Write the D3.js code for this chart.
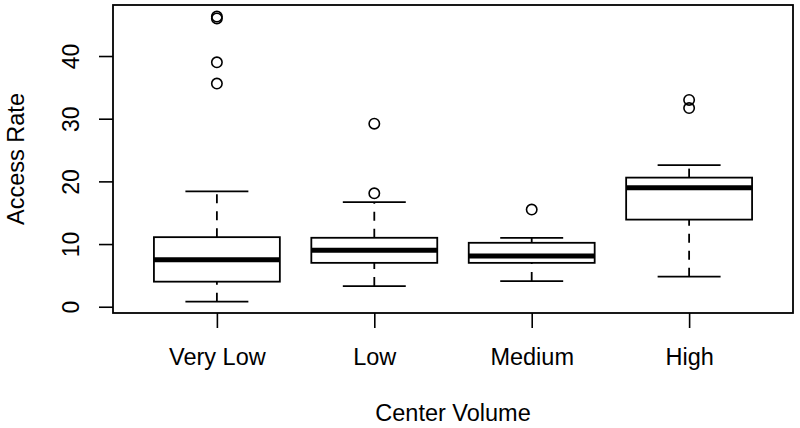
<!DOCTYPE html>
<html>
<head>
<meta charset="utf-8">
<script src="https://cdn.jsdelivr.net/npm/d3@7"></script>
<style>
  body { margin: 0; background: #fff; }
  svg { display: block; font-family: "Liberation Sans", Arial, sans-serif; }
</style>
</head>
<body>
<div class="chart"></div>
<script>
//Box summaries
var categories = ["Very Low", "Low", "Medium", "High"];
var whiskerLow = [0.8, 3.3, 4.1, 4.8];
var q1 = [4.0, 7.0, 7.0, 13.9];
var median = [7.5, 9.0, 8.1, 19.0];
var q3 = [11.1, 11.0, 10.2, 20.6];
var whiskerHigh = [18.4, 16.7, 11.0, 22.6];
var outliers = [[46.0, 46.3, 39.0, 35.6], [29.2, 18.1], [15.5], [33.0, 31.7]];
var yTicks = [0, 10, 20, 30, 40];

function boxPlot(){
  var w = 800;
  var h = 428;
  var left = 113, right = 793, top = 5, bottom = 313;

  var svg = d3.select(".chart")
              .append("svg")
              .attr("width", w)
              .attr("height", h);

  //R style limits: 0.5..n+0.5 widened by 4%
  var x = d3.scaleLinear()
            .domain([0.34, 4.66])
            .range([left, right]);

  var y = d3.scaleLinear()
            .domain([-1.0, 48.14])
            .range([bottom, top]);

  var boxHalf = x(1.4) - x(1);
  var capHalf = boxHalf / 2;

  var data = categories.map(function(c, i){
    return {name: c, i: i + 1, lo: whiskerLow[i], q1: q1[i], med: median[i],
            q3: q3[i], hi: whiskerHigh[i], out: outliers[i]};
  });

  //Y axis
  var yAxis = d3.axisLeft(y)
                .tickValues(yTicks)
                .tickSize(14)
                .tickPadding(0);

  var gy = svg.append("g")
              .attr("transform", "translate(" + left + ",0)")
              .call(yAxis);
  gy.select(".domain").remove();
  gy.selectAll("line").attr("stroke", "#000").attr("stroke-width", 1.6);
  gy.selectAll("text")
    .attr("transform", "rotate(-90)")
    .attr("x", 0)
    .attr("y", -34)
    .attr("dy", 0)
    .attr("text-anchor", "middle")
    .style("font-size", "23px")
    .style("font-family", "Liberation Sans, Arial, sans-serif")
    .attr("fill", "#000");

  //X axis
  var xAxis = d3.axisBottom(x)
                .tickValues([1, 2, 3, 4])
                .tickFormat(function(d){ return categories[d - 1]; })
                .tickSize(15);

  var gx = svg.append("g")
              .attr("transform", "translate(0," + bottom + ")")
              .call(xAxis);
  gx.select(".domain").remove();
  gx.selectAll("line").attr("stroke", "#000").attr("stroke-width", 1.6);
  gx.selectAll("text")
    .attr("y", 52)
    .attr("dy", 0)
    .style("font-size", "23.5px")
    .style("font-family", "Liberation Sans, Arial, sans-serif")
    .attr("fill", "#000");

  //Axis titles
  svg.append("text")
     .attr("x", (left + right) / 2)
     .attr("y", 421)
     .attr("text-anchor", "middle")
     .style("font-size", "23.5px")
     .text("Center Volume");

  svg.append("text")
     .attr("transform", "translate(24," + (top + bottom) / 2 + ") rotate(-90)")
     .attr("text-anchor", "middle")
     .style("font-size", "23.5px")
     .text("Access Rate");

  //Boxes
  var g = svg.selectAll(".box")
             .data(data)
             .enter()
             .append("g")
             .attr("class", "box");

  //Whiskers (dashed)
  g.append("line")
   .attr("x1", function(d){ return x(d.i); })
   .attr("x2", function(d){ return x(d.i); })
   .attr("y1", function(d){ return y(d.lo); })
   .attr("y2", function(d){ return y(d.q1); })
   .attr("stroke", "#000").attr("stroke-width", 1.8)
   .attr("stroke-dasharray", "9,8");

  g.append("line")
   .attr("x1", function(d){ return x(d.i); })
   .attr("x2", function(d){ return x(d.i); })
   .attr("y1", function(d){ return y(d.q3); })
   .attr("y2", function(d){ return y(d.hi); })
   .attr("stroke", "#000").attr("stroke-width", 1.8)
   .attr("stroke-dasharray", "9,8");

  //Caps
  g.selectAll(".cap")
   .data(function(d){ return [{i: d.i, v: d.lo}, {i: d.i, v: d.hi}]; })
   .enter()
   .append("line")
   .attr("class", "cap")
   .attr("x1", function(d){ return x(d.i) - capHalf; })
   .attr("x2", function(d){ return x(d.i) + capHalf; })
   .attr("y1", function(d){ return y(d.v); })
   .attr("y2", function(d){ return y(d.v); })
   .attr("stroke", "#000").attr("stroke-width", 1.8);

  //Box
  g.append("rect")
   .attr("x", function(d){ return x(d.i) - boxHalf; })
   .attr("y", function(d){ return y(d.q3); })
   .attr("width", boxHalf * 2)
   .attr("height", function(d){ return y(d.q1) - y(d.q3); })
   .attr("fill", "#fff")
   .attr("stroke", "#000").attr("stroke-width", 1.8);

  //Median
  g.append("line")
   .attr("x1", function(d){ return x(d.i) - boxHalf; })
   .attr("x2", function(d){ return x(d.i) + boxHalf; })
   .attr("y1", function(d){ return y(d.med); })
   .attr("y2", function(d){ return y(d.med); })
   .attr("stroke", "#000").attr("stroke-width", 5);

  //Outliers
  g.selectAll("circle")
   .data(function(d){ return d.out.map(function(v){ return {i: d.i, v: v}; }); })
   .enter()
   .append("circle")
   .attr("cx", function(d){ return x(d.i); })
   .attr("cy", function(d){ return y(d.v); })
   .attr("r", 5.2)
   .attr("fill", "none")
   .attr("stroke", "#000").attr("stroke-width", 1.6);

  //Plot frame
  svg.append("rect")
     .attr("x", left)
     .attr("y", top)
     .attr("width", right - left)
     .attr("height", bottom - top)
     .attr("fill", "none")
     .attr("stroke", "#000")
     .attr("stroke-width", 1.8);
}

boxPlot();
</script>
</body>
</html>
